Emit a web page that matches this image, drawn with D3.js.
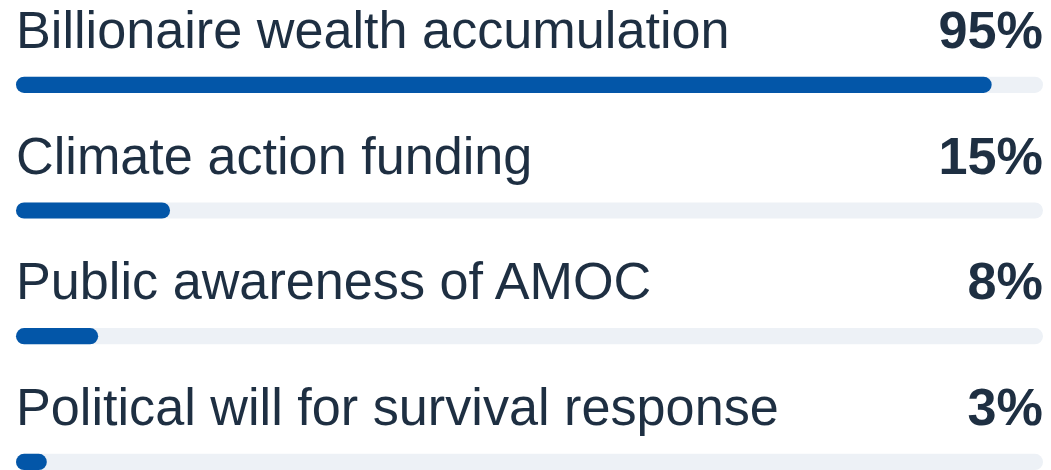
<!DOCTYPE html>
<html>
<head>
<meta charset="utf-8">
<script src="https://cdn.jsdelivr.net/npm/d3@7"></script>
<style>
  html, body { margin: 0; padding: 0; background: #ffffff; overflow: hidden; }
  text { font-family: "Liberation Sans", Arial, Helvetica, sans-serif; }
</style>
</head>
<body>
<svg id="chart"></svg>
<script>
// values
const labels = ['Billionaire wealth accumulation', 'Climate action funding', 'Public awareness of AMOC', 'Political will for survival response'];
const values = [95, 15, 8, 3];

const width = 1051, height = 470;
const margin = {left: 16, right: 8};
const rowStep = 125.7;
const barTop = 76.7, barH = 16.2;
const baseline = 48;

const svg = d3.select('#chart')
    .attr('width', width)
    .attr('height', height);

const x = d3.scaleLinear()
    .domain([0, 100])
    .range([margin.left, width - margin.right]);

const rows = svg.selectAll('.row')
    .data(labels.map((l, i) => ({label: l, value: values[i]})))
  .join('g')
    .attr('class', 'row')
    .attr('transform', (d, i) => `translate(0,${i * rowStep})`);

// label
rows.append('text')
    .attr('x', margin.left)
    .attr('y', baseline)
    .attr('fill', '#1e2f42')
    .style('font-size', '52.2px')
    .text(d => d.label);

// value
rows.append('text')
    .attr('x', x(100))
    .attr('y', baseline)
    .attr('text-anchor', 'end')
    .attr('fill', '#1e2f42')
    .style('font-size', '52.2px')
    .style('font-weight', 'bold')
    .text(d => d.value + '%');

// track
rows.append('rect')
    .attr('x', x(0))
    .attr('y', barTop)
    .attr('width', x(100) - x(0))
    .attr('height', barH)
    .attr('rx', barH / 2)
    .attr('fill', '#edf1f6');

// bar
rows.append('rect')
    .attr('x', x(0))
    .attr('y', barTop)
    .attr('width', d => x(d.value) - x(0))
    .attr('height', barH)
    .attr('rx', barH / 2)
    .attr('fill', '#0356a8');
</script>
</body>
</html>
